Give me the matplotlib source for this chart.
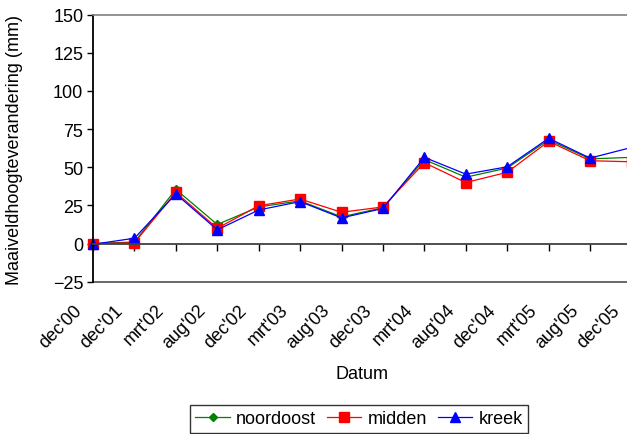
import matplotlib.pyplot as plt
from matplotlib.transforms import ScaledTranslation

plt.rcParams['font.family'] = ['Liberation Sans', 'DejaVu Sans']

# data (mm)
datums = ["dec'00", "dec'01", "mrt'02", "aug'02", "dec'02", "mrt'03", "aug'03",
          "dec'03", "mrt'04", "aug'04", "dec'04", "mrt'05", "aug'05", "dec'05"]
noordoost = [0, 1, 35.5, 12.5, 24, 28, 17.5, 23.5, 55, 43.5, 49.5, 68, 55.5, 56.5]
midden = [0, 0.5, 33.5, 10, 24.8, 29.2, 20.5, 24, 53, 40, 46.7, 67, 54.3, 53.6]
kreek = [-0.5, 3.5, 32.5, 9, 22, 27.5, 16.8, 23, 56.5, 45.5, 50.3, 69, 56, 63]

fs = 13

fig = plt.figure(figsize=(6.27, 4.35), dpi=100)
# plot area runs a little past the right edge of the picture
ax = fig.add_axes([93 / 627, 1 - 282.7 / 435, 538.5 / 627, 267 / 435])

x = list(range(len(datums)))
ax.plot(x, noordoost, color='#008000', lw=0.9, marker='D', ms=4.5, label='noordoost', clip_on=False)
ax.plot(x, midden, color='#ff0000', lw=0.9, marker='s', ms=6.5, label='midden', clip_on=False)
ax.plot(x, kreek, color='#0000ff', lw=0.9, marker='^', ms=7.5, label='kreek', clip_on=False)

ax.set_xlim(0, len(datums) - 1)
ax.set_ylim(-25, 150)
ax.set_yticks(range(-25, 151, 25))
ax.tick_params(axis='y', direction='out', length=4.5, width=1, labelsize=fs, pad=2.5)

# frame of the plot area
for side in ['top', 'right']:
    ax.spines[side].set_color('#808080')
    ax.spines[side].set_linewidth(1.2)
ax.spines['left'].set_color('black')
ax.spines['left'].set_linewidth(1.3)

# category axis crosses at 0, labels at the bottom of the plot area
ax.spines['bottom'].set_position(('data', 0))
ax.spines['bottom'].set_color('#404040')
ax.spines['bottom'].set_linewidth(1.3)
ax.set_xticks(x)
ax.tick_params(axis='x', direction='out', length=5, width=1, labelbottom=False)

sec = ax.secondary_xaxis(0.0)
sec.set_xticks(x)
sec.set_xticklabels(datums, rotation=45, ha='right', va='top', fontsize=fs)
sec.tick_params(length=0, pad=14)
sec.spines['bottom'].set_color('#505050')
sec.spines['bottom'].set_linewidth(1.2)
shift = ScaledTranslation(-8 / 100, 0, fig.dpi_scale_trans)
for lab in sec.get_xticklabels():
    lab.set_transform(lab.get_transform() + shift)

fig.text(362 / 627, 1 - 375 / 435, 'Datum', ha='center', va='center', fontsize=fs)
fig.text(15 / 627, 1 - 150 / 435, 'Maaiveldhoogteverandering (mm)', rotation=90,
         ha='center', va='center', fontsize=fs)

leg = fig.legend(loc='upper center', bbox_to_anchor=(359 / 627, 1 - 406 / 435), ncol=3,
                 fontsize=fs, frameon=True, fancybox=False, edgecolor='black',
                 handlelength=1.9, handletextpad=0.35, columnspacing=0.6, borderpad=0.3,
                 borderaxespad=0)
leg.get_frame().set_linewidth(1.0)

fig.savefig('out.png', dpi=100)
